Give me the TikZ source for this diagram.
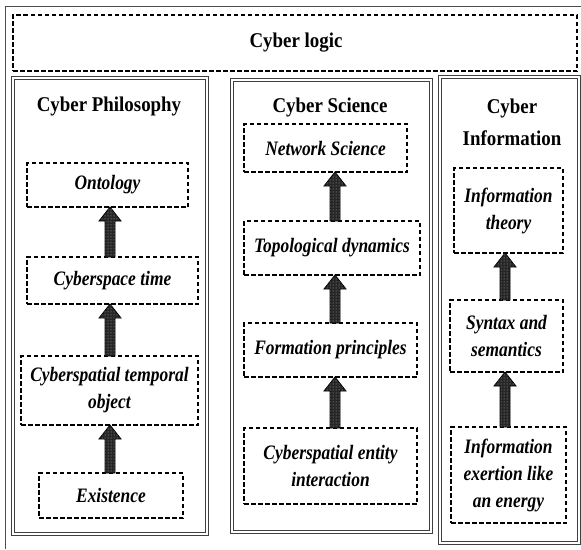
\documentclass[tikz,border=0pt]{standalone}
\usepackage{fontspec}
\setmainfont{Liberation Serif}
\newfontfamily\ttlfont[FakeStretch=0.9]{Liberation Serif Bold}
\newfontfamily\bxfont[FakeStretch=0.85]{Liberation Serif Bold Italic}
\usetikzlibrary{calc,patterns}
\tikzset{
  ttl/.style={font=\ttlfont\fontsize{21}{32}\selectfont, align=center, inner sep=0pt},
  dbox/.style={draw, line width=1.4pt, dash pattern=on 4.5pt off 2.5pt, inner sep=0pt, outer sep=0pt,
    align=center, font=\bxfont\fontsize{20.5}{27}\selectfont},
  panel/.style={draw=black!75, line width=0.9pt, double=white, double distance=1.3pt},
  blockarrow/.style={draw=black, line width=0.8pt, fill=black!85,
    postaction={pattern=dots, pattern color=black!30},
    to path={($(\tikztostart)+(-5,0)$) -- ($(\tikztotarget)+(-5,14)$) -- ($(\tikztotarget)+(-11,14)$)
      -- (\tikztotarget) -- ($(\tikztotarget)+(11,14)$) -- ($(\tikztotarget)+(5,14)$)
      -- ($(\tikztostart)+(5,0)$) -- cycle}}
}
\begin{document}
\begin{tikzpicture}[x=1pt,y=-1pt]
\useasboundingbox (0,0) rectangle (581,549);
\draw[black!70, line width=0.8pt] (5,549) -- (5,6) -- (581,6);
% top
\node[dbox, minimum width=564pt, minimum height=56pt] (logic) at (295,43) {};
\node[ttl] (logict) at (296,43) {Cyber logic};
% panels
\draw[panel] (13,78) rectangle (207,534);
\draw[panel] (232,80) rectangle (431,532);
\draw[panel] (440,77) rectangle (579,543);
\node[ttl] (t1) at (109,106) {Cyber Philosophy};
\node[ttl] (t2) at (330,107) {Cyber Science};
\node[ttl] (t3) at (512,122) {Cyber\\Information};
% philosophy
\node[dbox, minimum width=161pt, minimum height=44pt] (onto) at (107.5,185) {Ontology};
\node[dbox, minimum width=171pt, minimum height=47pt] (ct) at (112.5,280.5) {Cyberspace time};
\node[dbox, minimum width=177pt, minimum height=69pt] (cto) at (109.5,390.5) {Cyberspatial temporal\\object};
\node[dbox, minimum width=144pt, minimum height=45pt] (ex) at (111,495.5) {Existence};
% science
\node[dbox, minimum width=163pt, minimum height=48pt] (ns) at (325.5,148) {Network Science};
\node[dbox, minimum width=176pt, minimum height=54pt] (td) at (332,248) {Topological dynamics};
\node[dbox, minimum width=173pt, minimum height=54pt] (fp) at (330.5,350) {Formation principles};
\node[dbox, minimum width=173pt, minimum height=76pt] (cei) at (330.5,466) {Cyberspatial entity\\interaction};
% information
\node[dbox, minimum width=109pt, minimum height=85pt] (it) at (508.5,210.5) {Information\\theory};
\node[dbox, minimum width=113pt, minimum height=72pt] (ss) at (506.5,336) {Syntax and\\semantics};
\node[dbox, minimum width=115pt, minimum height=96pt] (ie) at (508.5,475) {Information\\exertion like\\an energy};
% arrows
\coordinate (ax1) at (110,0);
\coordinate (ax2) at (335,0);
\coordinate (ax3) at (505,0);
\draw[blockarrow] (ct.north -| ax1) to (onto.south -| ax1);
\draw[blockarrow] (cto.north -| ax1) to (ct.south -| ax1);
\draw[blockarrow] (ex.north -| ax1) to (cto.south -| ax1);
\draw[blockarrow] (td.north -| ax2) to (ns.south -| ax2);
\draw[blockarrow] (fp.north -| ax2) to (td.south -| ax2);
\draw[blockarrow] (cei.north -| ax2) to (fp.south -| ax2);
\draw[blockarrow] (ss.north -| ax3) to (it.south -| ax3);
\draw[blockarrow] (ie.north -| ax3) to (ss.south -| ax3);
\end{tikzpicture}
\end{document}
